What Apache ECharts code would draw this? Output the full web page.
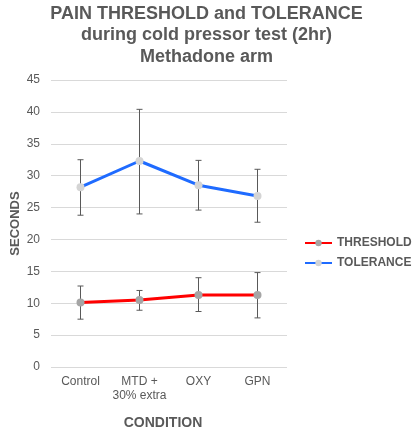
<!DOCTYPE html>
<html><head><meta charset="utf-8">
<script src="https://cdn.jsdelivr.net/npm/echarts@6/dist/echarts.min.js"></script>
<style>html,body{margin:0;padding:0;background:#fff}#c{width:413px;height:435px}</style>
</head><body><div id="c"></div>
<script>
var categories = ['Control', 'MTD +\n30% extra', 'OXY', 'GPN'];
var threshold = [10.1, 10.5, 11.3, 11.3];
var thresholdHigh = [12.7, 12.0, 14.0, 14.8];
var thresholdLow = [7.5, 8.9, 8.7, 7.7];
var tolerance = [28.2, 32.3, 28.5, 26.8];
var toleranceHigh = [32.5, 40.4, 32.4, 31.0];
var toleranceLow = [23.8, 24.0, 24.6, 22.7];
var yTicks = {min: 0, max: 45, interval: 5};

function errData(lo, hi) {
  return categories.map(function (c, i) { return [i, lo[i], hi[i]]; });
}
function errRender(params, api) {
  var x = api.value(0);
  var lo = api.coord([x, api.value(1)]);
  var hi = api.coord([x, api.value(2)]);
  var w = 3;
  var st = {stroke: '#595959', lineWidth: 1};
  return {type: 'group', children: [
    {type: 'line', shape: {x1: lo[0], y1: lo[1], x2: hi[0], y2: hi[1]}, style: st},
    {type: 'line', shape: {x1: lo[0] - w, y1: lo[1], x2: lo[0] + w, y2: lo[1]}, style: st},
    {type: 'line', shape: {x1: hi[0] - w, y1: hi[1], x2: hi[0] + w, y2: hi[1]}, style: st}
  ]};
}

var chart = echarts.init(document.getElementById('c'));
var font = 'Liberation Sans, Arial, sans-serif';
chart.setOption({
  animation: false,
  textStyle: {fontFamily: font},
  title: {
    text: 'PAIN THRESHOLD and TOLERANCE\nduring cold pressor test (2hr)\nMethadone arm',
    left: 'center', top: -2,
    textStyle: {fontSize: 18, fontWeight: 'bold', color: '#595959', lineHeight: 21.5, fontFamily: font}
  },
  legend: {
    orient: 'vertical', left: 299, top: 232, itemWidth: 27, itemHeight: 8, itemGap: 8,
    textStyle: {fontSize: 12, fontWeight: 'bold', color: '#595959', fontFamily: font},
    data: ['THRESHOLD', 'TOLERANCE']
  },
  graphic: [{
    type: 'text', x: 163, y: 423, silent: true,
    style: {text: 'CONDITION', fill: '#595959', font: 'bold 14px ' + font, align: 'center', verticalAlign: 'middle'}
  }],
  grid: {left: 51, right: 126, top: 80, bottom: 68, containLabel: false, outerBoundsMode: 'none'},
  xAxis: {
    type: 'category', data: categories,
    axisLine: {show: false}, axisTick: {show: false},
    axisLabel: {fontSize: 12, color: '#595959', margin: 7, lineHeight: 14.5, interval: 0}
  },
  yAxis: {
    type: 'value', min: yTicks.min, max: yTicks.max, interval: yTicks.interval,
    name: 'SECONDS', nameLocation: 'middle', nameGap: 29, nameRotate: 90, nameMoveOverlap: false,
    nameTextStyle: {fontSize: 13, fontWeight: 'bold', color: '#595959'},
    axisLine: {show: false}, axisTick: {show: false},
    axisLabel: {fontSize: 12, color: '#595959', margin: 11},
    splitLine: {lineStyle: {color: '#d9d9d9', width: 1}}
  },
  series: [
    {type: 'custom', name: 'thErr', renderItem: errRender, data: errData(thresholdLow, thresholdHigh), z: 1, silent: true},
    {type: 'custom', name: 'toErr', renderItem: errRender, data: errData(toleranceLow, toleranceHigh), z: 1, silent: true},
    {type: 'line', name: 'THRESHOLD', data: threshold, z: 3,
     lineStyle: {color: '#ff0000', width: 3}, itemStyle: {color: '#a5a5a5'},
     symbol: 'circle', symbolSize: 8},
    {type: 'line', name: 'TOLERANCE', data: tolerance, z: 3,
     lineStyle: {color: '#1f6bff', width: 3}, itemStyle: {color: '#d4d4d4'},
     symbol: 'circle', symbolSize: 8}
  ]
});
</script></body></html>
